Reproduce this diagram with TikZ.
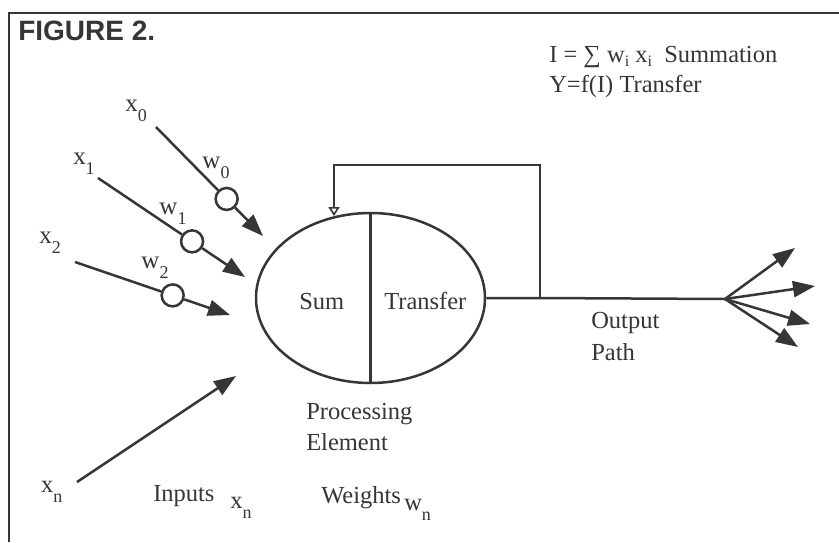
\documentclass[tikz,border=0pt]{standalone}
\usepackage{fontspec}
\setmainfont{Liberation Serif}
\newfontfamily\headfont{Liberation Sans}
\usetikzlibrary{arrows.meta,shapes.geometric,calc}
\definecolor{ink}{RGB}{52,55,53}
\newcommand\lsub[1]{\raisebox{-10pt}{\fontsize{18}{18}\selectfont #1}}
\newcommand\fsub[1]{\raisebox{-4pt}{\fontsize{16}{16}\selectfont #1}}
\begin{document}
\begin{tikzpicture}[x=1pt,y=-1pt,line width=2.5pt,
  txt/.style={font=\fontsize{24.5}{24.5}\selectfont, text=ink, inner sep=0pt, anchor=base west},
  lbl/.style={font=\fontsize{25}{25}\selectfont, text=ink, inner sep=0pt},
  arr/.style={draw=ink,-{Triangle[length=22pt,width=16pt]}},
  ln/.style={draw=ink},
  wt/.style={circle, draw=ink, fill=white, line width=2.5pt, minimum size=22pt, inner sep=0pt}]
\useasboundingbox (0,0) rectangle (839,542);
\fill[white] (0,0) rectangle (839,542);
% frame
\draw[ink,line width=2.8pt] (9,542) -- (9,13) -- (839,13);
\node[anchor=base west, inner sep=0pt, text=ink, font=\headfont\bfseries\fontsize{28}{28}\selectfont] (title) at (17,40) {FIGURE 2.};
% formulas
\node[txt] (f1) at (548,62) {I = ∑ w\fsub{i} x\fsub{i}\ \ Summation};
\node[txt] (f2) at (548,92) {Y=f(I) Transfer};
% processing element
\node[ellipse, draw=ink, line width=2.5pt, minimum width=229pt, minimum height=170pt, inner sep=0pt] (pe) at (370.5,298) {};
\draw[ln] (pe.north) -- (pe.south);
\node[txt] (sum) at (298,309) {Sum};
\node[txt] (tr) at (383,309) {Transfer};
\node[txt] (proc) at (305,419) {Processing};
\node[txt] (elem) at (305,450) {Element};
% inputs
\coordinate (s0) at (156,127); \coordinate (t0) at (263,236);
\coordinate (s1) at (98,178);  \coordinate (t1) at (245,277);
\coordinate (s2) at (75,262);  \coordinate (t2) at (230,315);
\coordinate (sn) at (77,482);  \coordinate (tn) at (236,376);
\node[wt] (c0) at ($(s0)!0.66!(t0)$) {};
\node[wt] (c1) at ($(s1)!0.64!(t1)$) {};
\node[wt] (c2) at ($(s2)!0.63!(t2)$) {};
\draw[ln] (s0) -- (c0); \draw[arr] (c0) -- (t0);
\draw[ln] (s1) -- (c1); \draw[arr] (c1) -- (t1);
\draw[ln] (s2) -- (c2); \draw[arr] (c2) -- (t2);
\draw[arr] (sn) -- (tn);
\node[lbl] (x0) at (136,111) {x\lsub{0}};
\node[lbl] (x1) at (84,164) {x\lsub{1}};
\node[lbl] (x2) at (50,243) {x\lsub{2}};
\node[lbl] (w0) at (216,168) {w\lsub{0}};
\node[lbl] (w1) at (173,214) {w\lsub{1}};
\node[lbl] (w2) at (155,268) {w\lsub{2}};
\node[txt] (xnl) at (40,492) {x\lsub{n}};
\node[txt] (inp) at (152,501) {Inputs};
\node[txt] (xnb) at (229,508) {x\lsub{n}};
\node[txt] (wgt) at (320,503) {Weights};
\node[txt] (wnb) at (403,510) {w\lsub{n}};
% output and feedback
\coordinate (j) at (540,298);
\coordinate (fa) at (540,165);
\coordinate (fb) at (334,165);
\coordinate (fe) at (334,216);
\coordinate (fan) at (725,299);
\draw[ln] (pe.east) -- (j) -- (fan);
\draw[draw=ink,line join=miter,-{Triangle[open,length=9pt,width=11pt,line width=1.6pt]}] (j) -- (fa) -- (fb) -- (fe);
\coordinate (o1) at (795,248);
\coordinate (o2) at (815,286);
\coordinate (o3) at (810,324);
\coordinate (o4) at (798,347);
\foreach \o in {o1,o2,o3,o4} \draw[arr] (fan) -- (\o);
\node[txt] (out) at (590,328) {Output};
\node[txt] (path) at (590,360) {Path};
\end{tikzpicture}
\end{document}
